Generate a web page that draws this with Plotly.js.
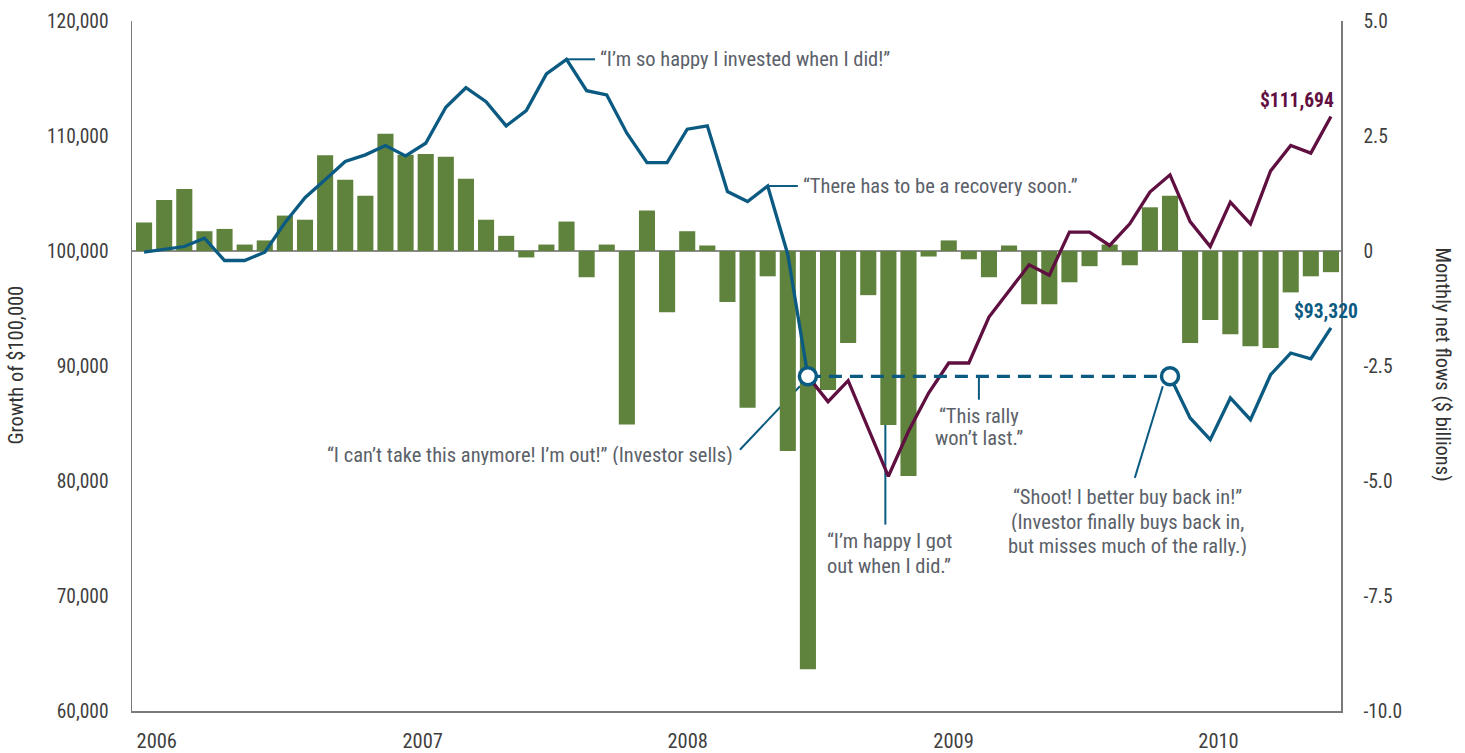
<!DOCTYPE html>
<html>
<head>
<meta charset="utf-8">
<script src="https://cdn.plot.ly/plotly-3.0.1.min.js"></script>
<style>html,body{margin:0;padding:0;background:#fff;}#chart{width:1465px;height:753px;}</style>
</head>
<body>
<div id="chart"></div>
<script>
// ---------- DATA ----------
const yearLabels = ['2006', '2007', '2008', '2009', '2010'];

// Monthly net flows ($ billions), 60 months
const netFlows = [
  0.62, 1.11, 1.35, 0.43, 0.48, 0.14, 0.23, 0.77, 0.68, 2.08,
  1.55, 1.20, 2.55, 2.09, 2.11, 2.05, 1.57, 0.68, 0.33, -0.14,
  0.14, 0.64, -0.57, 0.14, -3.77, 0.88, -1.33, 0.43, 0.12, -1.11,
  -3.41, -0.55, -4.35, -9.09, -3.02, -2.00, -0.96, -3.78, -4.89, -0.12,
  0.23, -0.18, -0.57, 0.12, -1.16, -1.16, -0.68, -0.33, 0.14, -0.31,
  0.95, 1.20, -2.00, -1.50, -1.81, -2.07, -2.11, -0.90, -0.55, -0.46
];

// Growth of $100,000 — investor who sells and buys back (null while out of the market)
const investor = [
  99900, 100150, 100390, 101120, 99175, 99175, 99900, 102460, 104630, 106190,
  107780, 108360, 109170, 108270, 109370, 112500, 114200, 112990, 110880, 112210,
  115400, 116670, 113940, 113570, 110240, 107690, 107690, 110590, 110880, 105170,
  104300, 105650, 99700, 89100, null, null, null, null, null, null,
  null, null, null, null, null, null, null, null, null, null,
  null, 89100, 85480, 83600, 87220, 85330, 89240, 91130, 90630, 93320
];

// Growth of $100,000 — staying invested after the sell point
const stayedIn = [
  null, null, null, null, null, null, null, null, null, null,
  null, null, null, null, null, null, null, null, null, null,
  null, null, null, null, null, null, null, null, null, null,
  null, null, null, 89100, 86900, 88720, 84550, 80410, 84330, 87650,
  90260, 90260, 94260, 96540, 98800, 97890, 101640, 101640, 100480, 102360,
  105120, 106620, 102560, 100390, 104250, 102360, 106970, 109170, 108510, 111694
];

const sellIdx = 33;
const buyIdx = 51;
const finalStayed = '$111,694';
const finalInvestor = '$93,320';

const rightTickVals = [5, 2.5, 0, -2.5, -5, -7.5, -10];
const rightTickText = ['5.0', '2.5', '0', '-2.5', '-5.0', '-7.5', '-10.0'];

// ---------- STYLE ----------
const FONT = '"Roboto Condensed", "Liberation Sans Narrow", "Arial Narrow", "DejaVu Sans Condensed", Roboto, sans-serif';
const GREEN = '#5f823c';
const BLUE = '#0b5a81';
const PURPLE = '#5f0f40';
const GREY = '#5b6169';
const TICK = '#3f3f3f';
const AXIS = '#7a7a7a';
const FS = 20.5;

const idx = netFlows.map((_, i) => i);

const traces = [
  {
    type: 'bar', x: idx, y: netFlows, yaxis: 'y',
    marker: {color: GREEN}, hoverinfo: 'y'
  },
  {
    type: 'scatter', mode: 'lines', x: idx, y: stayedIn, yaxis: 'y2',
    line: {color: PURPLE, width: 3.3}, connectgaps: false
  },
  {
    type: 'scatter', mode: 'lines', x: [sellIdx, buyIdx], y: [investor[sellIdx], investor[buyIdx]], yaxis: 'y2',
    line: {color: BLUE, width: 3.3, dash: '13px,8px'}
  },
  {
    type: 'scatter', mode: 'lines', x: idx, y: investor, yaxis: 'y2',
    line: {color: BLUE, width: 3.3}, connectgaps: false
  },
  {
    type: 'scatter', mode: 'markers', x: [sellIdx, buyIdx], y: [investor[sellIdx], investor[buyIdx]], yaxis: 'y2',
    marker: {symbol: 'circle', size: 17, color: '#ffffff', line: {color: BLUE, width: 3.5}}
  }
];

const connectors = [
  [21, investor[21], 22.42, investor[21]],          // "so happy I invested"
  [31, investor[31], 32.5, investor[31]],           // "recovery soon"
  [32.6, 88240, 29.62, 82720],                      // "I'm out"
  [36.85, investor[sellIdx], 36.85, 76210],         // "happy I got out"
  [41.5, investor[sellIdx], 41.5, 87070],           // "rally won't last"
  [50.64, 88240, 49.25, 80270]                      // "buy back in"
];

const shapes = connectors.map(c => ({
  type: 'line', xref: 'x', yref: 'y2', x0: c[0], y0: c[1], x1: c[2], y1: c[3],
  line: {color: BLUE, width: 2}, layer: 'below'
}));

const txt = {family: FONT, size: FS, color: GREY};
function note(x, y, text, xanchor) {
  return {x: x, y: y, xref: 'x', yref: 'y2', text: text, showarrow: false,
          xanchor: xanchor, yanchor: 'middle', height: 20, valign: 'middle', font: txt};
}

const annotations = [
  note(22.55, investor[21], '“I’m so happy I invested when I did!”', 'left'),
  note(32.65, investor[31], '“There has to be a recovery soon.”', 'left'),
  note(29.37, 82290, '“I can’t take this anymore! I’m out!” (Investor sells)', 'right'),
  note(33.85, 74740, '“I’m happy I got', 'left'),
  note(33.85, 72650, 'out when I did.”', 'left'),
  note(41.5, 85620, '“This rally', 'center'),
  note(41.5, 83770, 'won’t last.”', 'center'),
  note(48.9, 78640, '“Shoot! I better buy back in!”', 'center'),
  note(48.9, 76470, '(Investor finally buys back in,', 'center'),
  note(48.9, 74390, 'but misses much of the rally.)', 'center'),
  {x: 59, y: stayedIn[59], xref: 'x', yref: 'y2', text: '<b>' + finalStayed + '</b>',
   showarrow: false, xanchor: 'right', yanchor: 'bottom', xshift: 5, yshift: 3,
   font: {family: FONT, size: 19.5, color: PURPLE}},
  {x: 59, y: investor[59], xref: 'x', yref: 'y2', text: '<b>' + finalInvestor + '</b>',
   showarrow: false, xanchor: 'left', yanchor: 'bottom', xshift: -39, yshift: 3,
   font: {family: FONT, size: 19.5, color: BLUE}},
  {x: -0.096, y: 0.502, xref: 'paper', yref: 'paper', text: 'Growth of $100,000', textangle: -90,
   showarrow: false, xanchor: 'center', yanchor: 'middle', font: {family: FONT, size: 20.5, color: '#333'}},
  {x: 1.0845, y: 0.502, xref: 'paper', yref: 'paper', text: 'Monthly net flows ($ billions)', textangle: 90,
   showarrow: false, xanchor: 'center', yanchor: 'middle', font: {family: FONT, size: 20.5, color: '#333'}}
];

const layout = {
  width: 1465, height: 753,
  margin: {l: 132, r: 124, t: 21, b: 42, pad: 0},
  paper_bgcolor: '#ffffff', plot_bgcolor: '#ffffff',
  showlegend: false,
  bargap: 0.2,
  font: {family: FONT, size: FS, color: GREY},
  xaxis: {
    range: [-0.6, 59.5], showgrid: false, zeroline: false,
    tickvals: [0.63, 13.85, 27.02, 40.24, 53.41], ticktext: yearLabels,
    ticks: '', ticklabelstandoff: 10,
    showline: true, linecolor: AXIS, linewidth: 2,
    tickfont: {family: FONT, size: 20.5, color: TICK}
  },
  yaxis: {
    side: 'right', range: [-10, 5], tickvals: rightTickVals, ticktext: rightTickText,
    showgrid: false, zeroline: true, zerolinecolor: '#8c8c8c', zerolinewidth: 2,
    showline: true, linecolor: AXIS, linewidth: 1.5, ticks: '', ticklabelstandoff: 17,
    tickfont: {family: FONT, size: 19.5, color: TICK}
  },
  yaxis2: {
    overlaying: 'y', side: 'left', range: [60000, 120000], dtick: 10000, tickformat: ',d',
    showgrid: false, zeroline: false,
    showline: true, linecolor: AXIS, linewidth: 1.5, ticks: '', ticklabelstandoff: 18,
    tickfont: {family: FONT, size: 19.5, color: TICK}
  },
  shapes: shapes,
  annotations: annotations
};

Plotly.newPlot('chart', traces, layout, {displayModeBar: false, staticPlot: true});
</script>
</body>
</html>
